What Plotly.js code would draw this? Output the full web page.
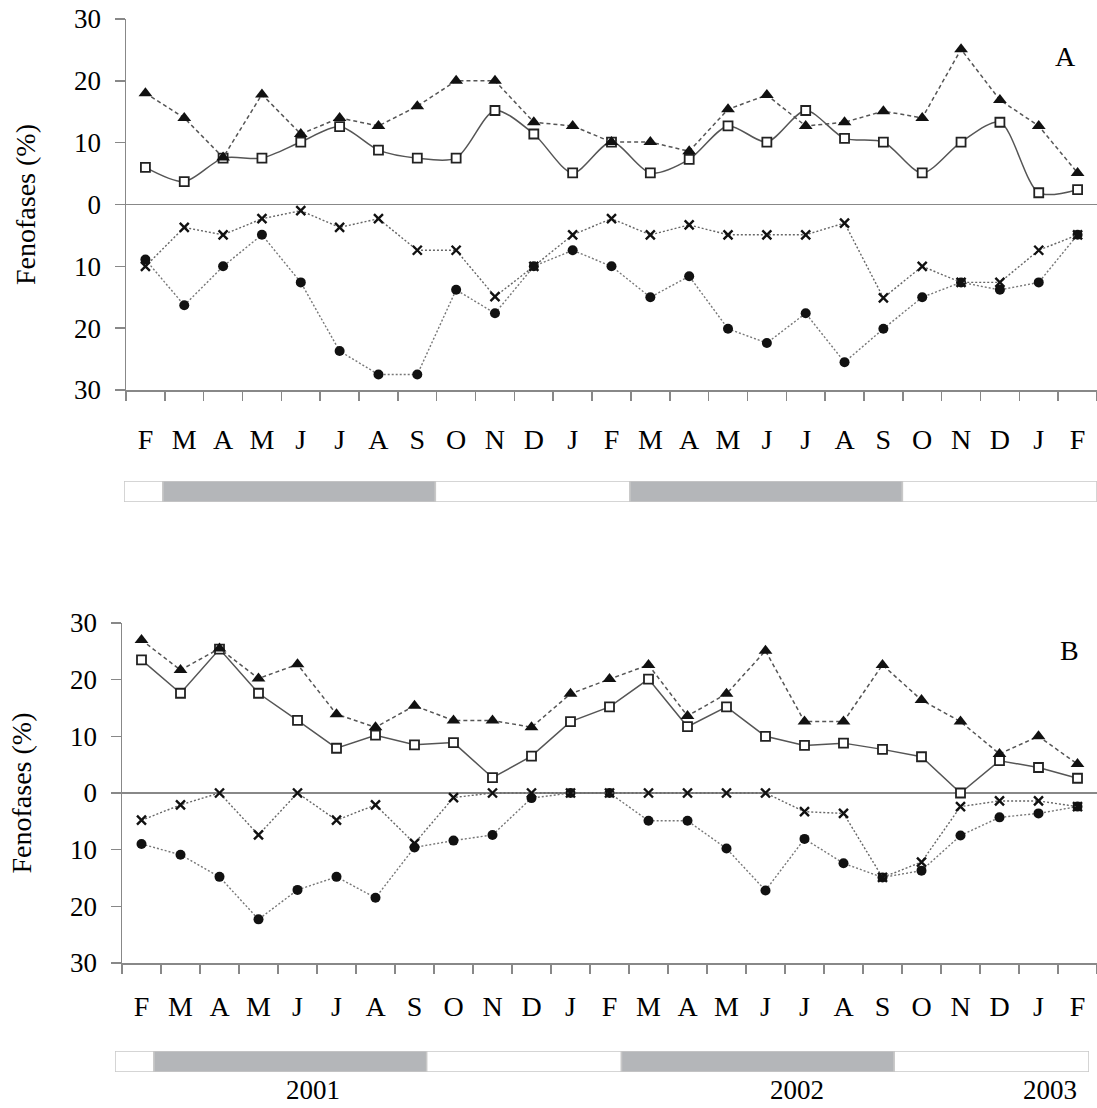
<!DOCTYPE html>
<html>
<head>
<meta charset="utf-8">
<script src="https://cdn.plot.ly/plotly-3.0.1.min.js"></script>
<style>html,body{margin:0;padding:0;background:#fff}#chart{width:1097px;height:1108px}</style>
</head>
<body>
<div id="chart"></div>
<script>
// ---- data ----
const months = ['F','M','A','M','J','J','A','S','O','N','D','J','F','M','A','M','J','J','A','S','O','N','D','J','F'];
const yTickVals = [-30,-20,-10,0,10,20,30];
const yTickText = ['30','20','10','0','10','20','30'];

// Panel A (upper series: positive, lower series: read downward)
const triA   = [18, 14, 7.6, 17.8, 11.4, 14, 12.7, 15.9, 20, 20, 13.3, 12.7, 10.1, 10.1, 8.6, 15.4, 17.7, 12.7, 13.3, 15.1, 14, 25.1, 16.9, 12.7, 5.1];
const sqA    = [6, 3.7, 7.5, 7.5, 10.1, 12.6, 8.8, 7.5, 7.5, 15.2, 11.4, 5.1, 10.1, 5.1, 7.3, 12.7, 10.1, 15.2, 10.7, 10.1, 5.1, 10.1, 13.3, 1.9, 2.4];
const crossA = [10, 3.7, 4.9, 2.3, 1, 3.7, 2.3, 7.4, 7.4, 14.9, 10, 4.9, 2.3, 4.9, 3.3, 4.9, 4.9, 4.9, 3.0, 15.1, 10, 12.6, 12.6, 7.4, 4.9];
const circA  = [8.9, 16.3, 10, 4.9, 12.6, 23.7, 27.5, 27.5, 13.8, 17.6, 10, 7.4, 10, 15, 11.6, 20.1, 22.4, 17.6, 25.5, 20.1, 15, 12.6, 13.8, 12.6, 4.9];

// Panel B
const triB   = [27, 21.7, 25.5, 20.2, 22.7, 13.9, 11.6, 15.4, 12.8, 12.8, 11.6, 17.5, 20.1, 22.6, 13.6, 17.5, 25.1, 12.6, 12.6, 22.6, 16.4, 12.6, 6.9, 10, 5.1];
const sqB    = [23.5, 17.6, 25.4, 17.6, 12.8, 7.9, 10.2, 8.5, 8.9, 2.7, 6.5, 12.6, 15.2, 20.1, 11.7, 15.2, 10, 8.4, 8.8, 7.7, 6.4, 0, 5.7, 4.5, 2.6];
const crossB = [4.8, 2.1, 0, 7.4, 0, 4.8, 2.1, 8.9, 0.8, 0, 0, 0, 0, 0, 0, 0, 0, 3.3, 3.6, 14.9, 12.2, 2.4, 1.4, 1.4, 2.4];
const circB  = [9, 10.9, 14.8, 22.3, 17.1, 14.8, 18.5, 9.6, 8.4, 7.4, 0.9, 0, 0, 4.9, 4.9, 9.8, 17.2, 8.1, 12.4, 14.9, 13.7, 7.5, 4.3, 3.6, 2.4];

// Seasons (month-index boundaries)
const seasonStart = [-0.5, 0.5, 7.5, 12.5, 19.5];
const seasonEnd   = [0.5, 7.5, 12.5, 19.5, 24.5];
const seasonType  = ['wet','dry','wet','dry','wet'];

const years   = ['2001','2002','2003'];
const yearPos = [4.4, 16.8, 23.3];

// ---- helpers ----
const W = 1097, H = 1108;
const FONT = 'Liberation Serif';
const idx = months.map((_, i) => i);
const neg = a => a.map(v => -v);
const dx = (a, b) => [a / W, b / W];
const dy = (top, bot) => [1 - bot / H, 1 - top / H];

function series(xa, ya, vals, kind, smooth) {
  const base = {x: idx, y: vals, xaxis: xa, yaxis: ya, mode: 'lines+markers', showlegend: false, hoverinfo: 'skip'};
  if (kind === 'tri') return Object.assign(base, {
    line: {color: '#555', width: 1.5, dash: '4px,3px'},
    marker: {symbol: 'triangle-up', size: 12, color: '#111'}});
  if (kind === 'sq') return Object.assign(base, {
    line: {color: '#555', width: 1.5, shape: smooth ? 'spline' : 'linear', smoothing: 0.8},
    marker: {symbol: 'square', size: 9, color: '#fff', line: {color: '#222', width: 1.8}}});
  if (kind === 'x') return Object.assign(base, {
    line: {color: '#666', width: 1.4, dash: '2px,2px'},
    marker: {symbol: 'x-thin', size: 9, color: '#111', line: {color: '#111', width: 2.4}}});
  return Object.assign(base, {
    line: {color: '#777', width: 1.4, dash: '2px,2px'},
    marker: {symbol: 'circle', size: 10, color: '#111'}});
}

function seasonBar(xa, ya) {
  return {
    type: 'bar', orientation: 'h', xaxis: xa, yaxis: ya,
    y: seasonStart.map(() => 0), base: seasonStart,
    x: seasonStart.map((s, i) => seasonEnd[i] - s),
    width: 1,
    marker: {color: seasonType.map(t => t === 'dry' ? '#b4b6b9' : '#ffffff'),
             line: {color: '#c8c8c8', width: 1.5}},
    showlegend: false, hoverinfo: 'skip'
  };
}

const data = [
  series('x', 'y', neg(circA), 'c'),
  series('x', 'y', neg(crossA), 'x'),
  series('x', 'y', sqA, 'sq', true),
  series('x', 'y', triA, 'tri'),
  series('x2', 'y2', neg(circB), 'c'),
  series('x2', 'y2', neg(crossB), 'x'),
  series('x2', 'y2', sqB, 'sq', false),
  series('x2', 'y2', triB, 'tri'),
  seasonBar('x3', 'y3'),
  seasonBar('x4', 'y4')
];

function xAxis(domain, anchor, standoff) {
  return {
    domain: domain, anchor: anchor, range: [-0.5, 24.5], fixedrange: true,
    tickmode: 'array', tickvals: idx, ticktext: months, ticks: '',
    ticklabelstandoff: standoff,
    tickfont: {family: FONT, size: 28, color: '#000'},
    minor: {tickmode: 'linear', tick0: 0.5, dtick: 1, ticks: 'outside', ticklen: 9, tickwidth: 1.5, tickcolor: '#888', showgrid: false},
    showline: true, linecolor: '#888', linewidth: 1.5,
    showgrid: false, zeroline: false, automargin: false
  };
}
function yAxis(domain, anchor) {
  return {
    domain: domain, anchor: anchor, range: [-30, 30], fixedrange: true,
    tickmode: 'array', tickvals: yTickVals, ticktext: yTickText,
    ticks: 'outside', ticklen: 10, tickwidth: 1.5, tickcolor: '#888',
    ticklabelstandoff: 8,
    tickfont: {family: FONT, size: 27, color: '#000'},
    showline: true, linecolor: '#888', linewidth: 1.5,
    showgrid: false, zeroline: true, zerolinecolor: '#888', zerolinewidth: 1.5,
    title: {text: 'Fenofases (%)', font: {family: FONT, size: 28, color: '#000'}, standoff: 30},
    automargin: false
  };
}
function hidden(domain, anchor, range) {
  return {domain: domain, anchor: anchor, range: range, visible: false, fixedrange: true, showgrid: false, zeroline: false};
}

const layout = {
  width: W, height: H,
  margin: {l: 0, r: 0, t: 0, b: 0, pad: 0},
  paper_bgcolor: '#fff', plot_bgcolor: 'rgba(0,0,0,0)',
  barmode: 'overlay',
  font: {family: FONT, color: '#000'},
  xaxis:  xAxis(dx(126, 1097), 'y', 24),
  yaxis:  yAxis(dy(19, 390), 'x'),
  xaxis2: xAxis(dx(122, 1097), 'y2', 18),
  yaxis2: yAxis(dy(623, 963), 'x2'),
  xaxis3: hidden(dx(124, 1097), 'y3', [-0.5, 24.5]),
  yaxis3: hidden(dy(481, 502), 'x3', [-0.5, 0.5]),
  xaxis4: hidden(dx(115, 1089), 'y4', [-0.5, 24.5]),
  yaxis4: hidden(dy(1051, 1072), 'x4', [-0.5, 0.5]),
  annotations: [
    {text: 'A', xref: 'x', yref: 'y', x: 23.7, y: 24, showarrow: false, font: {family: FONT, size: 28, color: '#000'}},
    {text: 'B', xref: 'x2', yref: 'y2', x: 23.8, y: 25.2, showarrow: false, font: {family: FONT, size: 28, color: '#000'}}
  ].concat(years.map((t, i) => ({
    text: t, xref: 'x2', yref: 'paper', x: yearPos[i], y: 1 - 1090 / H, yanchor: 'middle',
    showarrow: false, borderpad: 0, font: {family: FONT, size: 27, color: '#000'}
  })))
};

Plotly.newPlot('chart', data, layout, {staticPlot: true, displayModeBar: false});
</script>
</body>
</html>
